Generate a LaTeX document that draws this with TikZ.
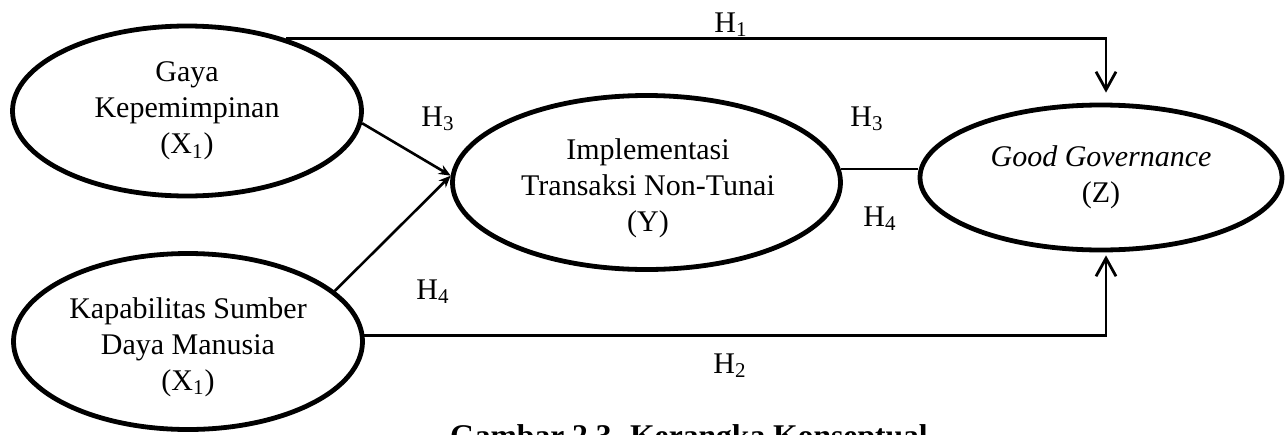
\documentclass[tikz,border=0pt]{standalone}
\usepackage{fontspec}
\setmainfont{Liberation Serif}
\usetikzlibrary{shapes.geometric,arrows.meta}
\begin{document}
\begin{tikzpicture}[x=0.5pt,y=-0.5pt,
  var/.style={ellipse, draw, line width=2.4pt, inner sep=0pt, align=center,
    font=\fontsize{15}{18}\selectfont},
  txt/.style={inner sep=0pt, align=center, font=\fontsize{15}{18}\selectfont},
  lbl/.style={inner sep=0pt, anchor=base, font=\fontsize{15}{18}\selectfont},
  conn/.style={line width=1.4pt},
  openarr/.style={-{Straight Barb[length=9pt,width=10pt,line width=1.4pt]}},
  filledarr/.style={-{Stealth[length=6pt,width=5pt]}}
]
\clip (0,0) rectangle (1285,434);
% variables
\node[var, minimum width=174.5pt, minimum height=85pt] (G) at (187,111)
  {Gaya\\Kepemimpinan\\(X\textsubscript{1})};
\node[var, minimum width=174.5pt, minimum height=88pt] (K) at (188,341.5) {};
\node[txt] (Kt) at (188,347) {Kapabilitas Sumber\\Daya Manusia\\(X\textsubscript{1})};
\node[var, minimum width=194pt, minimum height=87pt] (Y) at (646.5,182.5) {};
\node[txt] (Yt) at (648,188) {Implementasi\\Transaksi Non-Tunai\\(Y)};
\node[var, minimum width=181pt, minimum height=72.5pt] (Z) at (1101,177.5)
  {\textit{Good Governance}\\(Z)};
% connectors
\draw[conn, openarr, shorten >=5pt] (G.36) -| ([xshift=2.5pt]Z.north);
\draw[conn, openarr, shorten >=1.5pt] (K.2) -| ([xshift=2.5pt]Z.south);
\draw[line width=1.3pt, filledarr] (G.-4) -- (Y.178);
\draw[line width=1.3pt, filledarr] (K.19) -- (Y.178);
\draw[line width=1pt] (Y.4) -- (Y.4 -| Z.west);
% labels
\node[lbl] (h1) at (731,32) {H\textsubscript{1}};
\node[lbl] (h3a) at (438,126) {H\textsubscript{3}};
\node[lbl] (h4a) at (433,299) {H\textsubscript{4}};
\node[lbl] (h3b) at (867,126) {H\textsubscript{3}};
\node[lbl] (h4b) at (880,226) {H\textsubscript{4}};
\node[lbl] (h2) at (730,373) {H\textsubscript{2}};
% caption (cut off at bottom)
\node[lbl, font=\bfseries\fontsize{15.8}{18}\selectfont] (cap) at (689,446)
  {Gambar 2.3. Kerangka Konseptual};
\end{tikzpicture}
\end{document}
